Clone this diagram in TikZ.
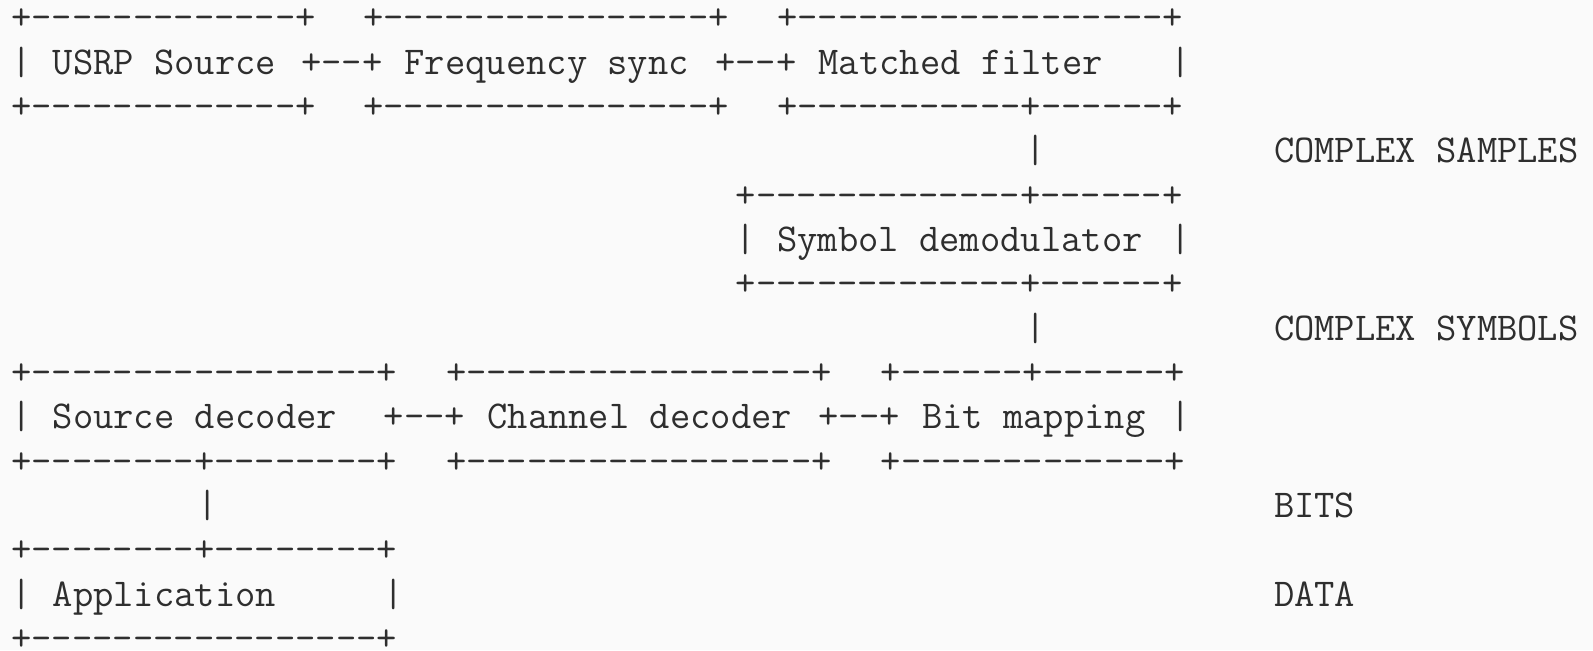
\documentclass[tikz,border=0pt]{standalone}
\usepackage{fontspec}
\definecolor{bgc}{HTML}{FAFAFA}
\definecolor{ink}{HTML}{2E2E2E}
\tikzset{
  asc/.style={anchor=base west, inner sep=0pt, outer sep=0pt, text=ink,
    font=\ttfamily\fontsize{19.71pt}{24pt}\selectfont},
}
\newcommand\cx[1]{\fpeval{11.35+20.7*(#1)}}
\newcommand\ly[1]{\fpeval{29.65+44.35*(#1)}}
\begin{document}
\begin{tikzpicture}[x=0.5pt,y=-0.5pt]
\fill[bgc] (0,0) rectangle (1593,650);
\useasboundingbox (0,0) rectangle (1593,650);
\clip (0,0) rectangle (1593,650);
% line 0
\node[asc] (l0a) at (\cx{0},\ly{0}) {+-------------+};
\node[asc] (l0b) at (\cx{17},\ly{0}) {+----------------+};
\node[asc] (l0c) at (\cx{37},\ly{0}) {+------------------+};
% line 1
\node[asc] (l1a) at (\cx{0},\ly{1}) {|};
\node[asc] (usrp) at (\cx{2},\ly{1}) {USRP Source};
\node[asc] (l1c) at (\cx{14},\ly{1}) {+--+};
\node[asc] (freq) at (\cx{19},\ly{1}) {Frequency sync};
\node[asc] (l1e) at (\cx{34},\ly{1}) {+--+};
\node[asc] (match) at (\cx{39},\ly{1}) {Matched filter};
\node[asc] (l1g) at (\cx{56},\ly{1}) {|};
% line 2
\node[asc] (l2a) at (\cx{0},\ly{2}) {+-------------+};
\node[asc] (l2b) at (\cx{17},\ly{2}) {+----------------+};
\node[asc] (l2c) at (\cx{37},\ly{2}) {+-----------+------+};
% line 3
\node[asc] (l3a) at (\cx{49},\ly{3}) {|};
\node[asc] (csamp) at (\cx{61},\ly{3}) {COMPLEX SAMPLES};
% line 4
\node[asc] (l4a) at (\cx{35},\ly{4}) {+-------------+------+};
% line 5
\node[asc] (l5a) at (\cx{35},\ly{5}) {|};
\node[asc] (symb) at (\cx{37},\ly{5}) {Symbol demodulator};
\node[asc] (l5c) at (\cx{56},\ly{5}) {|};
% line 6
\node[asc] (l6a) at (\cx{35},\ly{6}) {+-------------+------+};
% line 7
\node[asc] (l7a) at (\cx{49},\ly{7}) {|};
\node[asc] (csym) at (\cx{61},\ly{7}) {COMPLEX SYMBOLS};
% line 8
\node[asc] (l8a) at (\cx{0},\ly{8}) {+-----------------+};
\node[asc] (l8b) at (\cx{21},\ly{8}) {+-----------------+};
\node[asc] (l8c) at (\cx{42},\ly{8}) {+------+------+};
% line 9
\node[asc] (l9a) at (\cx{0},\ly{9}) {|};
\node[asc] (srcd) at (\cx{2},\ly{9}) {Source decoder};
\node[asc] (l9c) at (\cx{18},\ly{9}) {+--+};
\node[asc] (chan) at (\cx{23},\ly{9}) {Channel decoder};
\node[asc] (l9e) at (\cx{39},\ly{9}) {+--+};
\node[asc] (bitm) at (\cx{44},\ly{9}) {Bit mapping};
\node[asc] (l9g) at (\cx{56},\ly{9}) {|};
% line 10
\node[asc] (l10a) at (\cx{0},\ly{10}) {+--------+--------+};
\node[asc] (l10b) at (\cx{21},\ly{10}) {+-----------------+};
\node[asc] (l10c) at (\cx{42},\ly{10}) {+-------------+};
% line 11
\node[asc] (l11a) at (\cx{9},\ly{11}) {|};
\node[asc] (bits) at (\cx{61},\ly{11}) {BITS};
% line 12
\node[asc] (l12a) at (\cx{0},\ly{12}) {+--------+--------+};
% line 13
\node[asc] (l13a) at (\cx{0},\ly{13}) {|};
\node[asc] (app) at (\cx{2},\ly{13}) {Application};
\node[asc] (l13c) at (\cx{18},\ly{13}) {|};
\node[asc] (data) at (\cx{61},\ly{13}) {DATA};
% line 14
\node[asc] (l14a) at (\cx{0},\ly{14}) {+-----------------+};
\end{tikzpicture}
\end{document}
